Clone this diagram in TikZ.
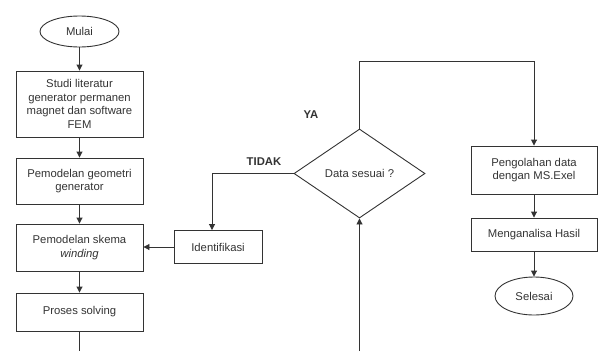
\documentclass[tikz,border=0pt]{standalone}
\usepackage{fontspec}
\setmainfont{Liberation Sans}
\usetikzlibrary{shapes.geometric,arrows.meta}
\definecolor{ln}{HTML}{333333}
\definecolor{tx}{HTML}{333333}
\begin{document}
\begin{tikzpicture}[x=1pt,y=-1pt,
  every node/.style={font=\fontsize{11.3pt}{13.4pt}\selectfont, text=tx, align=center, inner sep=1pt},
  box/.style={draw=ln, line width=0.9pt, rectangle},
  term/.style={draw=ln, line width=0.9pt, ellipse, inner sep=0pt},
  dec/.style={draw=ln, line width=0.9pt, diamond, inner sep=0pt},
  conn/.style={draw=ln, line width=0.9pt, -{Triangle[length=6pt,width=6pt]}},
  plain/.style={draw=ln, line width=0.9pt},
  lbl/.style={font=\fontsize{11.3pt}{13.4pt}\selectfont\bfseries}]
\useasboundingbox (0,0) rectangle (601,351);
\node[term, minimum width=79pt, minimum height=31pt] (mulai) at (79.5,31.5) {Mulai};
\node[box, minimum width=127pt, minimum height=66pt] (studi) at (79.5,104) {Studi literatur\\generator permanen\\magnet dan software\\FEM};
\node[box, minimum width=127pt, minimum height=46pt] (geo) at (79.5,181) {Pemodelan geometri\\generator};
\node[box, minimum width=127pt, minimum height=47pt] (skema) at (79.5,247.5) {Pemodelan skema\\\textit{winding}};
\node[box, minimum width=127pt, minimum height=38pt] (proses) at (79.5,312) {Proses solving};
\coordinate (pbot) at (79.5,351);
\node[box, minimum width=88pt, minimum height=33pt] (ident) at (218,247) {Identifikasi};
\node[dec, minimum width=131pt, minimum height=89pt] (data) at (359.5,173.5) {Data sesuai ?};
\coordinate (dbot) at (359.5,351);
\coordinate (ytop) at (359.5,61);
\node[box, minimum width=126pt, minimum height=48pt] (peng) at (534,170) {Pengolahan data\\dengan MS.Exel};
\node[box, minimum width=126pt, minimum height=33pt] (anal) at (534,234.5) {Menganalisa Hasil};
\node[term, minimum width=78pt, minimum height=38pt] (sel) at (534,296) {Selesai};
\node[lbl] (ya) at (311,115) {YA};
\node[lbl] (tidak) at (264,162) {TIDAK};
\draw[conn] (mulai) -- (studi);
\draw[conn] (studi) -- (geo);
\draw[conn] (geo) -- (skema);
\draw[conn] (skema) -- (proses);
\draw[plain] (proses) -- (pbot);
\draw[conn] (ident.west) -- (ident.west -| skema.east);
\draw[conn] (data.west) -| ([xshift=-6pt]ident.north);
\draw[conn] (data.north) -- (ytop) -| (peng.north);
\draw[conn] (dbot) -- (data.south);
\draw[conn] (peng) -- (anal);
\draw[conn] (anal) -- (sel);
\end{tikzpicture}
\end{document}
